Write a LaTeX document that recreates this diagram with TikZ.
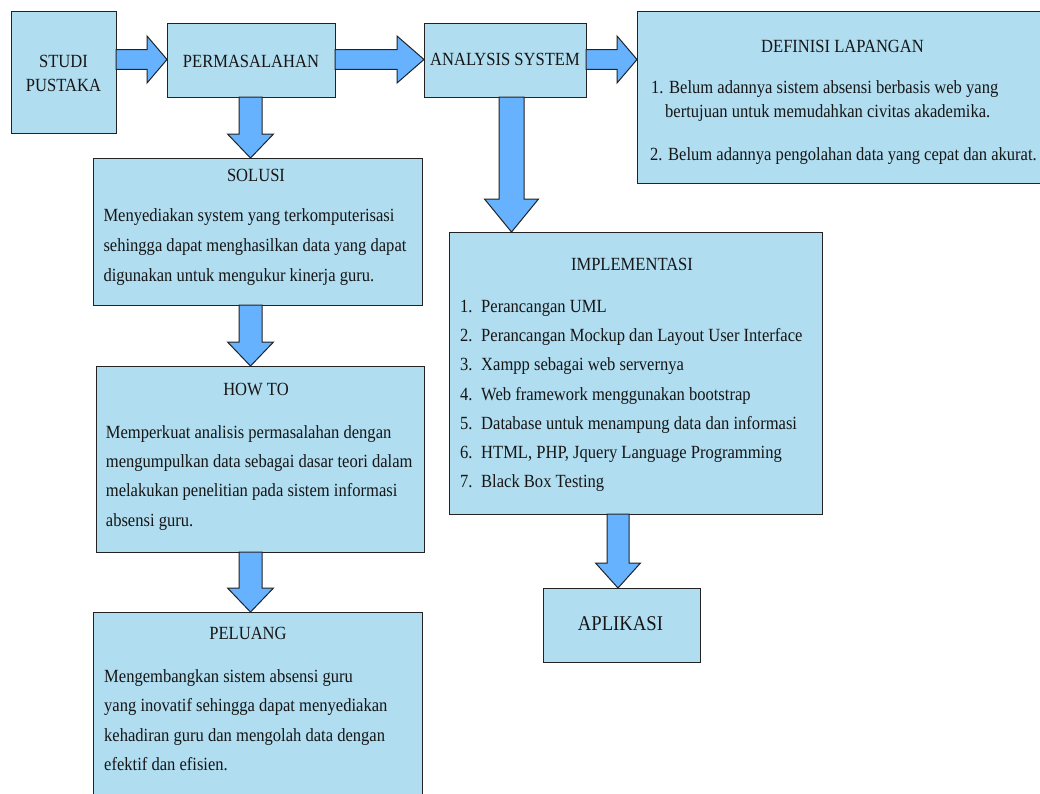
\documentclass[tikz,border=0pt]{standalone}
\usepackage{fontspec}
\setmainfont[FakeStretch=0.89]{Liberation Serif}
\usetikzlibrary{calc}
\definecolor{boxfill}{RGB}{176,221,240}
\definecolor{arrfill}{RGB}{102,178,255}
\definecolor{edge}{RGB}{35,35,35}
\definecolor{ink}{RGB}{22,22,22}
\newcommand\mybox[5]{\node[box, minimum width=#4-#2, minimum height=#5-#3] (#1) at (#2,-#3) {};}
% horizontal block arrow: from, to, y centre, head length
\newcommand\harr[4]{\draw[blockarrow] let \p1=(#1.east), \p2=(#2.west) in
  (\x1,-#3pt+9.8pt) -- (\x2-#4pt,-#3pt+9.8pt) -- (\x2-#4pt,-#3pt+23.5pt) -- (\x2,-#3pt)
  -- (\x2-#4pt,-#3pt-23.5pt) -- (\x2-#4pt,-#3pt-9.8pt) -- (\x1,-#3pt-9.8pt) -- cycle;}
% vertical block arrow: from, to, x centre, shaft half, head half, head length
\newcommand\varr[6]{\draw[blockarrow] let \p1=(#1.south), \p2=(#2.north) in
  (#3pt-#4pt,\y1) -- (#3pt-#4pt,\y2+#6pt) -- (#3pt-#5pt,\y2+#6pt) -- (#3pt,\y2)
  -- (#3pt+#5pt,\y2+#6pt) -- (#3pt+#4pt,\y2+#6pt) -- (#3pt+#4pt,\y1) -- cycle;}
\begin{document}
\begin{tikzpicture}[x=1pt,y=1pt,
  box/.style={draw=edge, fill=boxfill, line width=1pt, inner sep=0pt, outer sep=0pt, anchor=north west},
  blockarrow/.style={draw=edge, fill=arrfill, line width=1pt, line join=miter},
  txt/.style={anchor=base west, inner sep=0pt, text=ink, font=\fontsize{18.6}{22}\selectfont},
  ttl/.style={anchor=base, inner sep=0pt, text=ink, font=\fontsize{18.6}{22}\selectfont}]
\clip (0,0) rectangle (1040,-793);
\fill[white] (0,0) rectangle (1040,-793);

% boxes
\mybox{studi}{11}{11}{116}{133}
\mybox{perm}{167}{23}{335}{97}
\mybox{anal}{424}{23}{586}{97}
\mybox{def}{637}{11}{1060}{183}
\mybox{solusi}{93}{158}{422}{305}
\mybox{howto}{96}{366}{424}{552}
\mybox{peluang}{93}{612}{422}{810}
\mybox{impl}{449}{232}{822}{514}
\mybox{apl}{543}{588}{700}{662}

% block arrows
\harr{studi}{perm}{59.5}{20}
\harr{perm}{anal}{59.5}{27}
\harr{anal}{def}{59.5}{20}
\varr{perm}{solusi}{250.5}{11.5}{23}{24}
\varr{solusi}{howto}{250.5}{11.5}{23}{24}
\varr{howto}{peluang}{250.5}{11.5}{23}{24}
\varr{anal}{impl}{511.5}{12.5}{27}{33}
\varr{impl}{apl}{618}{11}{22.5}{25}

% texts
\node[ttl] (studiA) at (63.5,-67) {STUDI};
\node[ttl] (studiB) at (63.5,-91) {PUSTAKA};
\node[ttl] (permT) at (251,-67) {PERMASALAHAN};
\node[ttl] (analT) at (505,-65.5) {ANALYSIS SYSTEM};

\node[ttl] (defT) at (842.5,-52) {DEFINISI LAPANGAN};
\node[txt] (def1) at (651,-93) {1. Belum adannya sistem absensi berbasis web yang};
\node[txt] (def2) at (665,-117) {bertujuan untuk memudahkan civitas akademika.};
\node[txt] (def3) at (650,-160) {2. Belum adannya pengolahan data yang cepat dan akurat.};

\node[ttl] (solT) at (256,-181) {SOLUSI};
\foreach \t [count=\i] in {{Menyediakan system yang terkomputerisasi},
  {sehingga dapat menghasilkan data yang dapat},
  {digunakan untuk mengukur kinerja guru.}}
  \node[txt] (sol\i) at (103.3,{-221-30*(\i-1)}) {\t};

\node[ttl] (howT) at (256,-395) {HOW TO};
\foreach \t [count=\i] in {{Memperkuat analisis permasalahan dengan},
  {mengumpulkan data sebagai dasar teori dalam},
  {melakukan penelitian pada sistem informasi},
  {absensi guru.}}
  \node[txt] (how\i) at (105.7,{-438-29.4*(\i-1)}) {\t};

\node[ttl] (pelT) at (248,-639) {PELUANG};
\foreach \t [count=\i] in {{Mengembangkan sistem absensi guru},
  {yang inovatif sehingga dapat menyediakan},
  {kehadiran guru dan mengolah data dengan},
  {efektif dan efisien.}}
  \node[txt] (pel\i) at (104,{-682-29.6*(\i-1)}) {\t};

\node[ttl] (implT) at (632,-270) {IMPLEMENTASI};
\foreach \t [count=\i] in {{Perancangan UML},
  {Perancangan Mockup dan Layout User Interface},
  {Xampp sebagai web servernya},
  {Web framework menggunakan bootstrap},
  {Database untuk menampung data dan informasi},
  {HTML, PHP, Jquery Language Programming},
  {Black Box Testing}}
  \node[txt] (impl\i) at (460,{-312.5-29.2*(\i-1)}) {\makebox[21pt][l]{\i.}\t};

\node[ttl, font=\fontsize{21}{25}\selectfont] (aplT) at (620.5,-630.7) {APLIKASI};
\end{tikzpicture}
\end{document}
